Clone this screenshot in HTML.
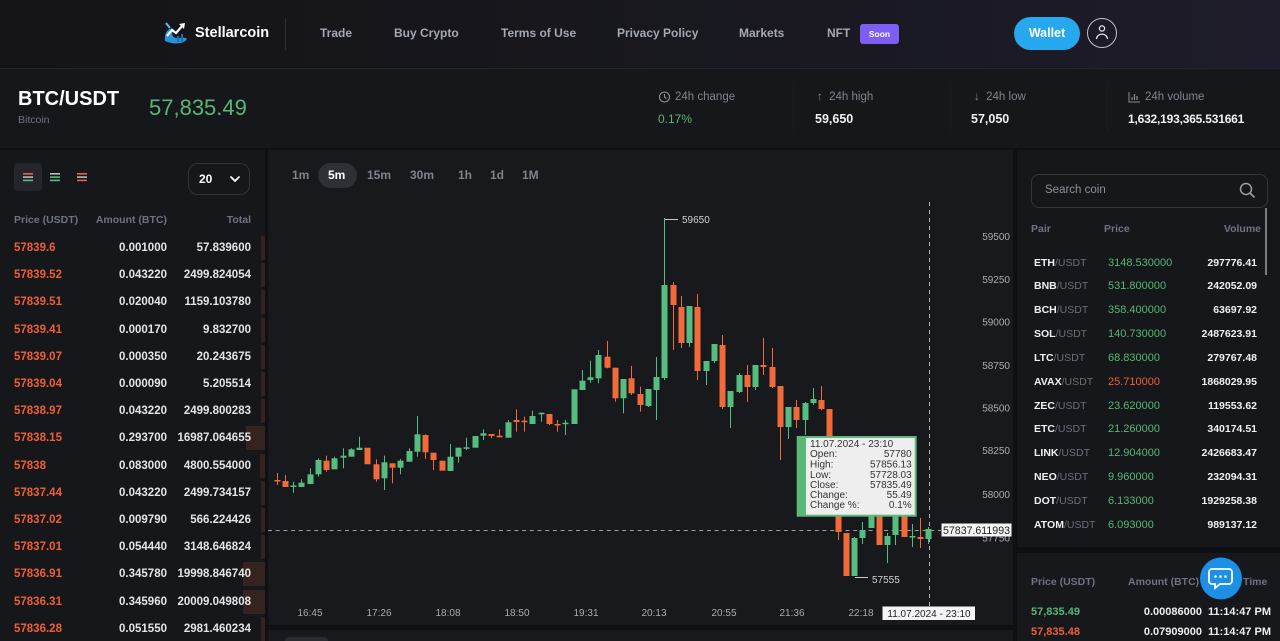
<!DOCTYPE html>
<html style="width:1280px;height:641px;overflow:hidden"><head><meta charset="utf-8">
<style>
*{margin:0;padding:0;box-sizing:border-box}
html,body{width:1280px;height:641px;overflow:hidden}
body{background:#0f1013;font-family:"Liberation Sans",Arial,sans-serif;position:relative;color:#e6e6e6}
.a{position:absolute;white-space:nowrap}
.nav{font-size:12px;font-weight:bold;color:#a4a8b3;top:26px;line-height:14px}
.lbl{font-size:11.5px;color:#7f8490;line-height:14px}
.val{font-size:12.5px;font-weight:bold;color:#f2f2f2;line-height:14px}
.ob{position:absolute;left:0;width:265px;height:24px;line-height:24px;font-size:11.5px;font-weight:bold}
.ob .p{position:absolute;left:14px;color:#ef5f36}
.ob .m{position:absolute;right:98px;color:#e4e4e4}
.ob .t{position:absolute;right:14px;color:#e4e4e4}
.ob .d{position:absolute;right:0;top:0;height:24px;background:#35231f}
.hd{font-size:10.5px;font-weight:bold;color:#6e7384;line-height:14px}
.tf{font-size:12px;font-weight:bold;color:#80838e;top:168px;line-height:14px}
.pr{position:absolute;left:1017px;width:263px;height:20px;line-height:20px;font-size:11px}
.pr .n{position:absolute;left:17px;color:#f0f0f0;font-weight:bold;font-size:10.5px}
.pr .n i{font-style:normal;font-weight:normal;color:#6b6f7a}
.pr .c{position:absolute;left:91px;color:#55b874}
.pr .v{position:absolute;right:23px;color:#f0f0f0;font-weight:bold;font-size:10.5px}
</style></head><body>

<!-- HEADER -->
<div class="a" style="left:0;top:0;width:1280px;height:68px;background:linear-gradient(90deg,#141418 0%,#17171d 45%,#1e1c2a 100%)"></div>
<div class="a" style="left:0;top:68px;width:1280px;height:1px;background:#25252d"></div>
<svg class="a" style="left:162px;top:21px" width="28" height="24" viewBox="0 0 28 24">
<path d="M3 20 C2 12 6 6 12 8 C9 12 10 16 14 17 C18 18 22 15 25 18 C22 23 12 24 3 20 Z" fill="#2a93d5"/>
<path d="M4 2 L8 7" stroke="#5fc0f0" stroke-width="2"/>
<polyline points="5,15 10,9 14,12 21,4" fill="none" stroke="#ffffff" stroke-width="2.2"/>
<polygon points="17,3 23,2 22,8" fill="#ffffff"/>
<rect x="15" y="15" width="2" height="6" fill="#1e6fb0"/><rect x="19" y="13" width="2" height="8" fill="#1e6fb0"/>
</svg>
<div class="a" style="left:195px;top:25px;font-size:14.5px;font-weight:bold;color:#fff;line-height:16px">Stellarcoin</div>
<div class="a" style="left:285px;top:18px;width:1px;height:32px;background:#2c2c34"></div>
<div class="a nav" style="left:320px">Trade</div>
<div class="a nav" style="left:394px">Buy Crypto</div>
<div class="a nav" style="left:501px">Terms of Use</div>
<div class="a nav" style="left:617px">Privacy Policy</div>
<div class="a nav" style="left:739px">Markets</div>
<div class="a nav" style="left:827px">NFT</div>
<div class="a" style="left:860px;top:24px;width:39px;height:20px;background:#7d5ef2;border-radius:3px;color:#fff;font-size:8.5px;font-weight:bold;text-align:center;line-height:20px">Soon</div>
<div class="a" style="left:1014px;top:17px;width:66px;height:33px;background:#27a7ee;border-radius:17px;color:#fff;font-size:12.5px;font-weight:bold;text-align:center;line-height:33px">Wallet</div>
<div class="a" style="left:1087px;top:18px;width:30px;height:30px;border:1.2px solid #bfc0c8;border-radius:50%"></div>
<svg class="a" style="left:1087px;top:18px" width="30" height="30"><circle cx="15" cy="10.5" r="2.6" fill="none" stroke="#e8e8ee" stroke-width="1.3"/><path d="M9.5 21 C10 14.5 20 14.5 20.5 21" fill="none" stroke="#e8e8ee" stroke-width="1.3"/></svg>

<!-- TICKER -->
<div class="a" style="left:0;top:69px;width:1280px;height:79px;background:#16171b"></div>
<div class="a" style="left:18px;top:88px;font-size:20px;font-weight:bold;color:#fff;line-height:23px">BTC/USDT</div>
<div class="a" style="left:18px;top:114px;font-size:10.5px;color:#6f7380;line-height:12px">Bitcoin</div>
<div class="a" style="left:149px;top:95px;font-size:22px;color:#58b676;line-height:26px">57,835.49</div>
<div class="a" style="left:793px;top:82px;width:1px;height:50px;background:#1b1c21"></div>
<div class="a" style="left:950px;top:82px;width:1px;height:50px;background:#1b1c21"></div>
<div class="a" style="left:1107px;top:82px;width:1px;height:50px;background:#1b1c21"></div>
<svg class="a" style="left:658px;top:90px" width="14" height="14"><circle cx="6.5" cy="7" r="5" fill="none" stroke="#8b8f99" stroke-width="1.1"/><path d="M6.5 4 V7 L8.5 8.5" fill="none" stroke="#8b8f99" stroke-width="1.1"/></svg>
<div class="a lbl" style="left:675px;top:90px">24h change</div>
<div class="a" style="left:658px;top:112px;font-size:12px;color:#58b676;line-height:14px">0.17%</div>
<div class="a lbl" style="left:817px;top:90px">↑&nbsp; 24h high</div>
<div class="a val" style="left:815px;top:112px">59,650</div>
<div class="a lbl" style="left:974px;top:90px">↓&nbsp; 24h low</div>
<div class="a val" style="left:971px;top:112px">57,050</div>
<svg class="a" style="left:1128px;top:91px" width="13" height="12"><path d="M1 1 V11 H12" fill="none" stroke="#8b8f99" stroke-width="1"/><path d="M4 9 V6 M6.5 9 V3 M9 9 V5" stroke="#8b8f99" stroke-width="1.2"/></svg>
<div class="a lbl" style="left:1145px;top:90px">24h volume</div>
<div class="a val" style="left:1128px;top:112px;font-size:12px;letter-spacing:-0.2px">1,632,193,365.531661</div>

<!-- PANELS -->
<div class="a" style="left:0;top:150px;width:265px;height:491px;background:#16171b"></div>
<div class="a" style="left:268px;top:150px;width:745px;height:475px;background:#18191d"></div>
<div class="a" style="left:268px;top:630px;width:745px;height:11px;background:#18191d"></div>
<div class="a" style="left:285px;top:637px;width:43px;height:4px;background:#2a2b31;border-radius:4px 4px 0 0"></div>
<div class="a" style="left:1017px;top:150px;width:263px;height:397px;background:#16171b"></div>
<div class="a" style="left:1017px;top:553px;width:263px;height:88px;background:#17181c"></div>

<!-- ORDER BOOK -->
<div class="a" style="left:14px;top:163px;width:28px;height:28px;background:#25262d;border-radius:4px"></div>
<svg class="a" style="left:14px;top:163px" width="80" height="28">
<rect x="9" y="10" width="10" height="1.6" fill="#e0674a"/><rect x="9" y="13.3" width="10" height="1.6" fill="#b9bcc4"/><rect x="9" y="16.6" width="10" height="1.6" fill="#55bd7f"/>
<rect x="36" y="10" width="10" height="1.6" fill="#b9bcc4"/><rect x="36" y="13.3" width="10" height="1.6" fill="#55bd7f"/><rect x="36" y="16.6" width="10" height="1.6" fill="#55bd7f"/>
<rect x="63" y="10" width="10" height="1.6" fill="#e0674a"/><rect x="63" y="13.3" width="10" height="1.6" fill="#b9bcc4"/><rect x="63" y="16.6" width="10" height="1.6" fill="#e0674a"/>
</svg>
<div class="a" style="left:188px;top:163px;width:62px;height:32px;border:1.5px solid #32333a;border-radius:10px"></div>
<div class="a" style="left:199px;top:172px;font-size:12px;font-weight:bold;color:#fff;line-height:14px">20</div>
<svg class="a" style="left:229px;top:174px" width="12" height="10"><path d="M1.5 2.5 L6 7 L10.5 2.5" fill="none" stroke="#fff" stroke-width="1.8"/></svg>
<div class="a hd" style="left:14px;top:213px">Price (USDT)</div>
<div class="a hd" style="left:67px;top:213px;width:100px;text-align:right">Amount (BTC)</div>
<div class="a hd" style="left:151px;top:213px;width:100px;text-align:right">Total</div>

<div class="ob" style="top:236px"><div class="d" style="width:4px"></div><span class="p">57839.6</span><span class="m">0.001000</span><span class="t">57.839600</span></div>
<div class="ob" style="top:263px"><div class="d" style="width:4px"></div><span class="p">57839.52</span><span class="m">0.043220</span><span class="t">2499.824054</span></div>
<div class="ob" style="top:290px"><div class="d" style="width:4px"></div><span class="p">57839.51</span><span class="m">0.020040</span><span class="t">1159.103780</span></div>
<div class="ob" style="top:318px"><div class="d" style="width:4px"></div><span class="p">57839.41</span><span class="m">0.000170</span><span class="t">9.832700</span></div>
<div class="ob" style="top:345px"><div class="d" style="width:4px"></div><span class="p">57839.07</span><span class="m">0.000350</span><span class="t">20.243675</span></div>
<div class="ob" style="top:372px"><div class="d" style="width:4px"></div><span class="p">57839.04</span><span class="m">0.000090</span><span class="t">5.205514</span></div>
<div class="ob" style="top:399px"><div class="d" style="width:4px"></div><span class="p">57838.97</span><span class="m">0.043220</span><span class="t">2499.800283</span></div>
<div class="ob" style="top:426px"><div class="d" style="width:19px"></div><span class="p">57838.15</span><span class="m">0.293700</span><span class="t">16987.064655</span></div>
<div class="ob" style="top:454px"><div class="d" style="width:5px"></div><span class="p">57838</span><span class="m">0.083000</span><span class="t">4800.554000</span></div>
<div class="ob" style="top:481px"><div class="d" style="width:4px"></div><span class="p">57837.44</span><span class="m">0.043220</span><span class="t">2499.734157</span></div>
<div class="ob" style="top:508px"><div class="d" style="width:4px"></div><span class="p">57837.02</span><span class="m">0.009790</span><span class="t">566.224426</span></div>
<div class="ob" style="top:535px"><div class="d" style="width:4px"></div><span class="p">57837.01</span><span class="m">0.054440</span><span class="t">3148.646824</span></div>
<div class="ob" style="top:562px"><div class="d" style="width:22px"></div><span class="p">57836.91</span><span class="m">0.345780</span><span class="t">19998.846740</span></div>
<div class="ob" style="top:590px"><div class="d" style="width:22px"></div><span class="p">57836.31</span><span class="m">0.345960</span><span class="t">20009.049808</span></div>
<div class="ob" style="top:617px"><div class="d" style="width:4px"></div><span class="p">57836.28</span><span class="m">0.051550</span><span class="t">2981.460234</span></div>

<!-- TIMEFRAMES -->
<div class="a" style="left:318px;top:163px;width:39px;height:25px;background:#2e3038;border-radius:13px"></div>
<div class="a tf" style="left:292px">1m</div>
<div class="a tf" style="left:328px;color:#fff">5m</div>
<div class="a tf" style="left:367px">15m</div>
<div class="a tf" style="left:410px">30m</div>
<div class="a tf" style="left:458px">1h</div>
<div class="a tf" style="left:490px">1d</div>
<div class="a tf" style="left:522px">1M</div>

<!-- RIGHT PANEL -->
<div class="a" style="left:1031px;top:174px;width:237px;height:34px;border:1px solid #34353c;border-radius:8px"></div>
<div class="a" style="left:1045px;top:183px;font-size:11.5px;color:#8c909a;line-height:14px">Search coin</div>
<svg class="a" style="left:1238px;top:181px" width="20" height="20"><circle cx="8" cy="8" r="5.5" fill="none" stroke="#9a9ea8" stroke-width="1.5"/><path d="M12 12 L16.5 16.5" stroke="#9a9ea8" stroke-width="1.6"/></svg>
<div class="a" style="left:1265px;top:208px;width:2px;height:67px;background:#7a7c82"></div>
<div class="a hd" style="left:1031px;top:222px">Pair</div>
<div class="a hd" style="left:1104px;top:222px">Price</div>
<div class="a hd" style="left:1161px;top:222px;width:100px;text-align:right">Volume</div>

<div class="pr" style="top:253px"><span class="n">ETH<i>/USDT</i></span><span class="c">3148.530000</span><span class="v">297776.41</span></div>
<div class="pr" style="top:276px"><span class="n">BNB<i>/USDT</i></span><span class="c">531.800000</span><span class="v">242052.09</span></div>
<div class="pr" style="top:300px"><span class="n">BCH<i>/USDT</i></span><span class="c">358.400000</span><span class="v">63697.92</span></div>
<div class="pr" style="top:324px"><span class="n">SOL<i>/USDT</i></span><span class="c">140.730000</span><span class="v">2487623.91</span></div>
<div class="pr" style="top:348px"><span class="n">LTC<i>/USDT</i></span><span class="c">68.830000</span><span class="v">279767.48</span></div>
<div class="pr" style="top:372px"><span class="n">AVAX<i>/USDT</i></span><span class="c" style="color:#ef5f36">25.710000</span><span class="v">1868029.95</span></div>
<div class="pr" style="top:396px"><span class="n">ZEC<i>/USDT</i></span><span class="c">23.620000</span><span class="v">119553.62</span></div>
<div class="pr" style="top:419px"><span class="n">ETC<i>/USDT</i></span><span class="c">21.260000</span><span class="v">340174.51</span></div>
<div class="pr" style="top:443px"><span class="n">LINK<i>/USDT</i></span><span class="c">12.904000</span><span class="v">2426683.47</span></div>
<div class="pr" style="top:467px"><span class="n">NEO<i>/USDT</i></span><span class="c">9.960000</span><span class="v">232094.31</span></div>
<div class="pr" style="top:491px"><span class="n">DOT<i>/USDT</i></span><span class="c">6.133000</span><span class="v">1929258.38</span></div>
<div class="pr" style="top:515px"><span class="n">ATOM<i>/USDT</i></span><span class="c">6.093000</span><span class="v">989137.12</span></div>

<div class="a hd" style="left:1031px;top:575px">Price (USDT)</div>
<div class="a hd" style="left:1128px;top:575px">Amount (BTC)</div>
<div class="a hd" style="left:1243px;top:575px">Time</div>
<div class="a" style="left:1031px;top:605px;font-size:11px;font-weight:bold;color:#55b874;line-height:14px">57,835.49</div>
<div class="a" style="left:1102px;top:605px;width:100px;text-align:right;font-size:11px;font-weight:bold;color:#eee;line-height:14px">0.00086000</div>
<div class="a" style="left:1208px;top:605px;font-size:11px;font-weight:bold;color:#eee;line-height:14px">11:14:47 PM</div>
<div class="a" style="left:1031px;top:625px;font-size:11px;font-weight:bold;color:#ef5f36;line-height:14px">57,835.48</div>
<div class="a" style="left:1102px;top:625px;width:100px;text-align:right;font-size:11px;font-weight:bold;color:#eee;line-height:14px">0.07909000</div>
<div class="a" style="left:1208px;top:625px;font-size:11px;font-weight:bold;color:#eee;line-height:14px">11:14:47 PM</div>

<!-- CHART -->
<svg class="a" style="left:0;top:0" width="1280" height="641" font-family="Liberation Sans, Arial, sans-serif">
<g fill="#a9acb3" font-size="10" text-anchor="end">
<text x="1010" y="240.2">59500</text><text x="1010" y="283.2">59250</text><text x="1010" y="325.5">59000</text>
<text x="1010" y="369">58750</text><text x="1010" y="411.5">58500</text><text x="1010" y="454">58250</text>
<text x="1010" y="498">58000</text><text x="1010" y="541.5">57750</text>
</g>
<g fill="#a9acb3" font-size="10" text-anchor="middle">
<text x="310" y="616.2">16:45</text><text x="379" y="616.2">17:26</text><text x="448" y="616.2">18:08</text>
<text x="517" y="616.2">18:50</text><text x="586" y="616.2">19:31</text><text x="654" y="616.2">20:13</text>
<text x="724" y="616.2">20:55</text><text x="792" y="616.2">21:36</text><text x="861" y="616.2">22:18</text>
</g>
<line x1="268" y1="530.5" x2="941" y2="530.5" stroke="#9c9ea4" stroke-width="1" stroke-dasharray="4 3.7"/>
<line x1="929.5" y1="202" x2="929.5" y2="606" stroke="#b0b2b8" stroke-width="1" stroke-dasharray="4 4"/>
<!-- green candles -->
<g fill="#55bd7f">
<rect x="293" y="481.7" width="1" height="11"/><rect x="290.5" y="485.5" width="6" height="1.5"/>
<rect x="301" y="479.3" width="1" height="7.7"/><rect x="298.5" y="482.7" width="6" height="4.3"/>
<rect x="310" y="468.3" width="1" height="15.7"/><rect x="307.5" y="474.3" width="6" height="9.7"/>
<rect x="318" y="458.3" width="1" height="18.4"/><rect x="315.5" y="460" width="6" height="14.3"/>
<rect x="334" y="456.7" width="1" height="12.6"/><rect x="331.5" y="458.3" width="6" height="11"/>
<rect x="343" y="448.3" width="1" height="20"/><rect x="340.5" y="455.7" width="6" height="2"/>
<rect x="351" y="448.3" width="1" height="8.4"/><rect x="348.5" y="449.3" width="6" height="7.4"/>
<rect x="359" y="436.7" width="1" height="13.3"/><rect x="356.5" y="447.7" width="6" height="2.3"/>
<rect x="384" y="455.7" width="1" height="34.3"/><rect x="381.5" y="462.3" width="6" height="16"/>
<rect x="400" y="459" width="1" height="15.3"/><rect x="397.5" y="460.7" width="6" height="7"/>
<rect x="409" y="448.3" width="1" height="13.4"/><rect x="406.5" y="451" width="6" height="10.7"/>
<rect x="417" y="416" width="1" height="40.7"/><rect x="414.5" y="434.3" width="6" height="17.4"/>
<rect x="450" y="444" width="1" height="27"/><rect x="447.5" y="456.7" width="6" height="14.3"/>
<rect x="458" y="447.7" width="1" height="15"/><rect x="455.5" y="447.7" width="6" height="9"/>
<rect x="466" y="437.7" width="1" height="12.3"/><rect x="463.5" y="447.3" width="6" height="1.5"/>
<rect x="472.5" y="436" width="6" height="11.7"/>
<rect x="483" y="429.3" width="1" height="10.7"/><rect x="480.5" y="433.3" width="6" height="2.4"/>
<rect x="508" y="420" width="1" height="17.7"/><rect x="505.5" y="422.3" width="6" height="15.4"/>
<rect x="532" y="410.7" width="1" height="13.3"/><rect x="529.5" y="416" width="6" height="8"/>
<rect x="541" y="412.7" width="1" height="9"/><rect x="538.5" y="412.7" width="6" height="1.6"/>
<rect x="565" y="420" width="1" height="15"/><rect x="562.5" y="422.7" width="6" height="1.5"/>
<rect x="571.5" y="389.3" width="6" height="34.7"/>
<rect x="582" y="370" width="1" height="20"/><rect x="579.5" y="380.7" width="6" height="9.3"/>
<rect x="590" y="360.7" width="1" height="22"/><rect x="587.5" y="377.3" width="6" height="2.7"/>
<rect x="598" y="350" width="1" height="33.3"/><rect x="595.5" y="355" width="6" height="23.3"/>
<rect x="623" y="379" width="1" height="34.3"/><rect x="620.5" y="379" width="6" height="19.3"/>
<rect x="648" y="389" width="1" height="18"/><rect x="645.5" y="389" width="6" height="17"/>
<rect x="656" y="357" width="1" height="63"/><rect x="653.5" y="377" width="6" height="13"/>
<rect x="664" y="218" width="1" height="162"/><rect x="661.5" y="285" width="6" height="93"/>
<rect x="689" y="306" width="1" height="41"/><rect x="686.5" y="306" width="6" height="37"/>
<rect x="706" y="361" width="1" height="24"/><rect x="703.5" y="361" width="6" height="10"/>
<rect x="714" y="344" width="1" height="19"/><rect x="711.5" y="344" width="6" height="17"/>
<rect x="730" y="391" width="1" height="37"/><rect x="727.5" y="391" width="6" height="16"/>
<rect x="739" y="373" width="1" height="20"/><rect x="736.5" y="375" width="6" height="17"/>
<rect x="755" y="365" width="1" height="25"/><rect x="752.5" y="365" width="6" height="22"/>
<rect x="788" y="407" width="1" height="32"/><rect x="785.5" y="407" width="6" height="20"/>
<rect x="805" y="402" width="1" height="33"/><rect x="802.5" y="403" width="6" height="17"/>
<rect x="813" y="388" width="1" height="17"/><rect x="810.5" y="399" width="6" height="4"/>
<rect x="854" y="537" width="1" height="39"/><rect x="851.5" y="538" width="6" height="38"/>
<rect x="862" y="522" width="1" height="22"/><rect x="859.5" y="530" width="6" height="8"/>
<rect x="871" y="495" width="1" height="33"/><rect x="868.5" y="500" width="6" height="28"/>
<rect x="887" y="533" width="1" height="30"/><rect x="884.5" y="536" width="6" height="9"/>
<rect x="895" y="500" width="1" height="45"/><rect x="892.5" y="505" width="6" height="30"/>
<rect x="912" y="524" width="1" height="23"/><rect x="909.5" y="536" width="6" height="1.5"/>
<rect x="928" y="527" width="1" height="17"/><rect x="925.5" y="529" width="6" height="10"/>
</g>
<!-- red candles -->
<g fill="#f2693a">
<rect x="277" y="473" width="1" height="12"/><rect x="274.5" y="480" width="6" height="1.5"/>
<rect x="285" y="475" width="1" height="12"/><rect x="282.5" y="481" width="6" height="6"/>
<rect x="326" y="455.7" width="1" height="16"/><rect x="323.5" y="460.7" width="6" height="9.3"/>
<rect x="364.5" y="447.7" width="6" height="16.6"/>
<rect x="376" y="459.3" width="1" height="22.4"/><rect x="373.5" y="464.3" width="6" height="15"/>
<rect x="392" y="463.3" width="1" height="20"/><rect x="389.5" y="463.3" width="6" height="4.4"/>
<rect x="425" y="434.3" width="1" height="24.7"/><rect x="422.5" y="435" width="6" height="17.3"/>
<rect x="433" y="452.7" width="1" height="17.3"/><rect x="430.5" y="452.7" width="6" height="7.3"/>
<rect x="439.5" y="460.7" width="6" height="10"/>
<rect x="491" y="434" width="1" height="4.3"/><rect x="488.5" y="434" width="6" height="2"/>
<rect x="499" y="429.3" width="1" height="8"/><rect x="496.5" y="435.7" width="6" height="1.6"/>
<rect x="516" y="409.3" width="1" height="22.4"/><rect x="513.5" y="420" width="6" height="2"/>
<rect x="524" y="416.7" width="1" height="15"/><rect x="521.5" y="420.7" width="6" height="1.5"/>
<rect x="549" y="414" width="1" height="11"/><rect x="546.5" y="414" width="6" height="10"/>
<rect x="557" y="420" width="1" height="11.7"/><rect x="554.5" y="424" width="6" height="1.5"/>
<rect x="607" y="341" width="1" height="27.3"/><rect x="604.5" y="356.7" width="6" height="11"/>
<rect x="615" y="367.7" width="1" height="34"/><rect x="612.5" y="367.7" width="6" height="30.6"/>
<rect x="631" y="366" width="1" height="29"/><rect x="628.5" y="378.3" width="6" height="15"/>
<rect x="640" y="386.7" width="1" height="25"/><rect x="637.5" y="394" width="6" height="11"/>
<rect x="673" y="282" width="1" height="68"/><rect x="670.5" y="285" width="6" height="20"/>
<rect x="681" y="296" width="1" height="52"/><rect x="678.5" y="307" width="6" height="36"/>
<rect x="697" y="294" width="1" height="86"/><rect x="694.5" y="307" width="6" height="64"/>
<rect x="722" y="335" width="1" height="74"/><rect x="719.5" y="345" width="6" height="62"/>
<rect x="747" y="365" width="1" height="37"/><rect x="744.5" y="375" width="6" height="12"/>
<rect x="763" y="338" width="1" height="37"/><rect x="760.5" y="365" width="6" height="2"/>
<rect x="772" y="348" width="1" height="40"/><rect x="769.5" y="367" width="6" height="20"/>
<rect x="780" y="386" width="1" height="74"/><rect x="777.5" y="386" width="6" height="41"/>
<rect x="796" y="400" width="1" height="28"/><rect x="793.5" y="407" width="6" height="13"/>
<rect x="821" y="386" width="1" height="24"/><rect x="818.5" y="400" width="6" height="9"/>
<rect x="829" y="409" width="1" height="51"/><rect x="826.5" y="409" width="6" height="46"/>
<rect x="838" y="470" width="1" height="70"/><rect x="835.5" y="470" width="6" height="62"/>
<rect x="843.5" y="533" width="6" height="43"/>
<rect x="876.5" y="505" width="6" height="40"/>
<rect x="901.5" y="505" width="6" height="32"/>
<rect x="920" y="518" width="1" height="30"/><rect x="917.5" y="537" width="6" height="2"/>
</g>
<!-- annotations -->
<line x1="665" y1="219.5" x2="678" y2="219.5" stroke="#c8c8c8" stroke-width="1"/>
<text x="682" y="223.2" font-size="10" fill="#d0d0d0">59650</text>
<line x1="855" y1="577.5" x2="868" y2="577.5" stroke="#c8c8c8" stroke-width="1"/>
<text x="872" y="582.8" font-size="10" fill="#d0d0d0">57555</text>
<!-- price / time boxes -->
<rect x="941.5" y="523.5" width="70" height="13" fill="#f4f4f4"/>
<text x="976.5" y="533.8" font-size="10.6" fill="#222" text-anchor="middle">57837.611993</text>
<rect x="882.5" y="606.5" width="92.5" height="13.5" fill="#f4f4f4"/>
<text x="929" y="617" font-size="10" fill="#222" text-anchor="middle">11.07.2024 - 23:10</text>
<!-- tooltip -->
<rect x="796.7" y="436" width="120" height="80.7" fill="#5cb87a"/>
<rect x="806" y="438" width="108.7" height="76.7" fill="#eeeeee"/>
<g font-size="10" fill="#333">
<text x="810" y="447">11.07.2024 - 23:10</text>
<text x="810" y="457">Open:</text><text x="810" y="467.5">High:</text><text x="810" y="477.8">Low:</text>
<text x="810" y="487.9">Close:</text><text x="810" y="497.9">Change:</text><text x="810" y="508.2">Change %:</text>
</g>
<g font-size="10" fill="#333" text-anchor="end">
<text x="911.7" y="457">57780</text><text x="911.7" y="467.5">57856.13</text><text x="911.7" y="477.8">57728.03</text>
<text x="911.7" y="487.9">57835.49</text><text x="911.7" y="497.9">55.49</text><text x="911.7" y="508.2">0.1%</text>
</g>
<!-- chat bubble -->
<circle cx="1221" cy="578.5" r="21" fill="#1d8fe6"/>
<path d="M1212 569 h17 a3 3 0 0 1 3 3 v9 a3 3 0 0 1 -3 3 h-9 l-5 4 v-4 h-3 a3 3 0 0 1 -3 -3 v-9 a3 3 0 0 1 3 -3 z" fill="none" stroke="#fff" stroke-width="1.8"/>
<circle cx="1215.5" cy="576.5" r="1.3" fill="#fff"/><circle cx="1220.5" cy="576.5" r="1.3" fill="#fff"/><circle cx="1225.5" cy="576.5" r="1.3" fill="#fff"/>
</svg>
</body></html>
